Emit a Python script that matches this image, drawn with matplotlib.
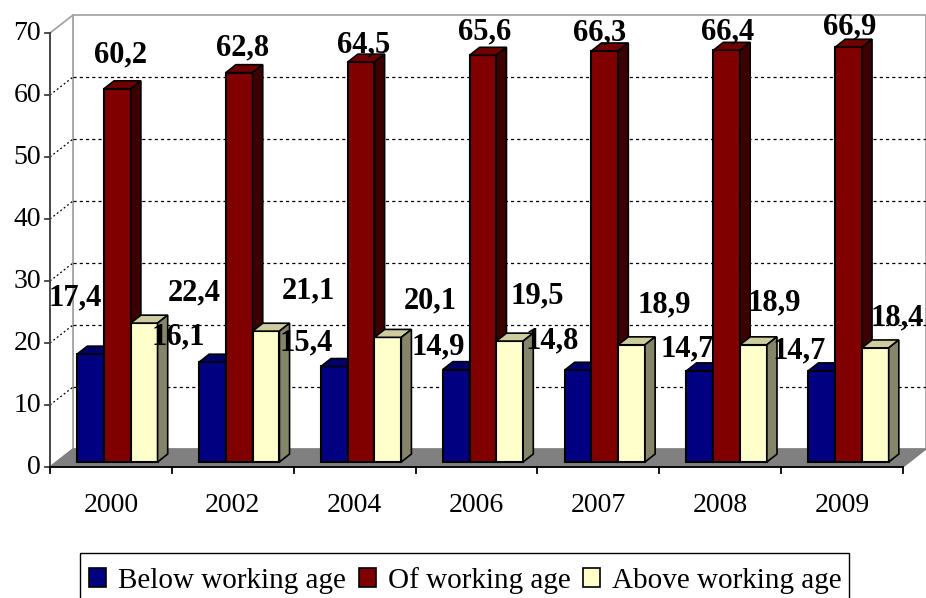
import matplotlib
matplotlib.use("Agg")
import matplotlib.pyplot as plt
from matplotlib.patches import Polygon, Patch, Rectangle

plt.rcParams['font.family'] = ['Liberation Serif', 'DejaVu Serif']

# ---- data ----
years = ["2000", "2002", "2004", "2006", "2007", "2008", "2009"]
below = [17.4, 16.1, 15.4, 14.9, 14.8, 14.7, 14.7]
working = [60.2, 62.8, 64.5, 65.6, 66.3, 66.4, 66.9]
above = [22.4, 21.1, 20.1, 19.5, 18.9, 18.9, 18.4]
series_names = ["Below working age", "Of working age", "Above working age"]
y_ticks = [0, 10, 20, 30, 40, 50, 60, 70]

# ---- styles / layout ----
front_colors = ["#000080", "#800000", "#FFFFCC"]
top_colors = ["#00006A", "#700000", "#CCCC9E"]
side_colors = ["#000045", "#3C0000", "#85856A"]
# label offsets in pixels (Excel 3D label placement)
label_offsets = [
    [(-15, 56), (-34, 25), (-28, 24), (-18, 23), (-26, 29), (-13, 22), (-23, 20)],
    [(3, 34), (3, 25), (3, 17), (2, 23), (-5, 18), (1, 18), (1, 20)],
    [(50, 30), (42, 40), (42, 36), (28, 45), (33, 40), (21, 42), (22, 30)],
]

W, H = 926, 598
fig = plt.figure(figsize=(W / 100, H / 100), dpi=100)
ax_left, ax_bottom, ax_w, ax_h = 50, 467, 853, 434   # pixels
ax = fig.add_axes([ax_left / W, (H - ax_bottom) / H, ax_w / W, ax_h / H])
n = len(years)
ymax = y_ticks[-1]
ax.set_xlim(0, n)
ax.set_ylim(0, ymax)
for s in ax.spines.values():
    s.set_visible(False)
ax.set_xticks([])
ax.set_yticks([])

px_x = ax_w / n
px_y = ax_h / ymax
Dx, Dy = 23 / px_x, 18 / px_y          # full depth of the 3D box
f0, fd = 0.28, 0.44                    # bar front plane, bar depth (fractions)
bw = 0.22                              # bar width

def poly(pts, fc, ec, z, lw=1.0):
    p = Polygon(pts, closed=True, facecolor=fc, edgecolor=ec, lw=lw,
                zorder=z, clip_on=False, joinstyle='miter')
    ax.add_patch(p)

# back wall
poly([(Dx, Dy), (n + Dx, Dy), (n + Dx, ymax + Dy), (Dx, ymax + Dy)], "white", "#A0A0A0", 0.1, 1.2)
# left wall
poly([(0, 0), (Dx, Dy), (Dx, ymax + Dy), (0, ymax)], "white", "#A0A0A0", 0.2, 1.2)
# gridlines
for v in y_ticks[1:-1]:
    ax.plot([Dx, n + Dx], [v + Dy, v + Dy], color="black", lw=0.9,
            ls=(0, (2.5, 2.5)), zorder=0.3, clip_on=False)
    ax.plot([0, Dx], [v, v + Dy], color="black", lw=0.9,
            ls=(0, (1.5, 2)), zorder=0.3, clip_on=False)
# floor
poly([(0, 0), (n, 0), (n + Dx, Dy), (Dx, Dy)], "#808080", "#808080", 0.5, 1.0)

# axes lines
ax.plot([0, 0], [0, ymax], color="#404040", lw=1.3, zorder=1, clip_on=False)
ax.plot([0, n], [0, 0], color="black", lw=1.3, zorder=1, clip_on=False)
for v in y_ticks:
    ax.plot([-5 / px_x, 0], [v, v], color="#404040", lw=1.3, zorder=1, clip_on=False)
    ax.text(-9 / px_x, v, str(v), ha="right", va="center", fontsize=20)
for i in range(n + 1):
    ax.plot([i, i], [0, -6 / px_y], color="black", lw=1.3, zorder=1, clip_on=False)
for i, yr in enumerate(years):
    ax.text(i + 0.5, -38 / px_y, yr, ha="center", va="center", fontsize=20)

# bars
series = [below, working, above]
z = 2
for i in range(n):
    for k, vals in enumerate(series):
        v = vals[i]
        x0 = i + 0.5 - 1.5 * bw + k * bw + f0 * Dx
        x1 = x0 + bw
        y0 = f0 * Dy
        y1 = y0 + v
        ddx, ddy = fd * Dx, fd * Dy
        poly([(x0, y0), (x1, y0), (x1, y1), (x0, y1)], front_colors[k], "black", z, 1.5)
        poly([(x0, y1), (x1, y1), (x1 + ddx, y1 + ddy), (x0 + ddx, y1 + ddy)],
             top_colors[k], "black", z + 0.1, 1.2)
        poly([(x1, y0), (x1 + ddx, y0 + ddy), (x1 + ddx, y1 + ddy), (x1, y1)],
             side_colors[k], "black", z + 0.1, 1.2)
        z += 1

# data labels
for k, vals in enumerate(series):
    for i, v in enumerate(vals):
        xc = i + 0.5 - 1.5 * bw + (k + 0.5) * bw + f0 * Dx
        yt = f0 * Dy + v
        ax.annotate(f"{v:.1f}".replace(".", ","), (xc, yt),
                    xytext=label_offsets[k][i], textcoords="offset pixels",
                    ha="center", va="center", fontsize=22, fontweight="bold",
                    zorder=100, annotation_clip=False)

# legend (box runs off the bottom edge, as in the original)
fig.patches.append(Rectangle((80 / W, -10 / H), (849 - 80) / W, (H - 553 + 10) / H,
                             transform=fig.transFigure, facecolor="white",
                             edgecolor="black", lw=1.0, zorder=0))
handles = [Patch(facecolor=c, edgecolor="black", lw=1.2) for c in front_colors]
leg = fig.legend(handles, series_names, loc="upper left",
                 bbox_to_anchor=(80 / W, 1 - 558 / H), ncol=3, fontsize=21,
                 frameon=False, borderpad=0.3, borderaxespad=0, handlelength=0.58,
                 handleheight=0.62, handletextpad=0.41, columnspacing=0.45)

fig.savefig("out.png", dpi=100)
